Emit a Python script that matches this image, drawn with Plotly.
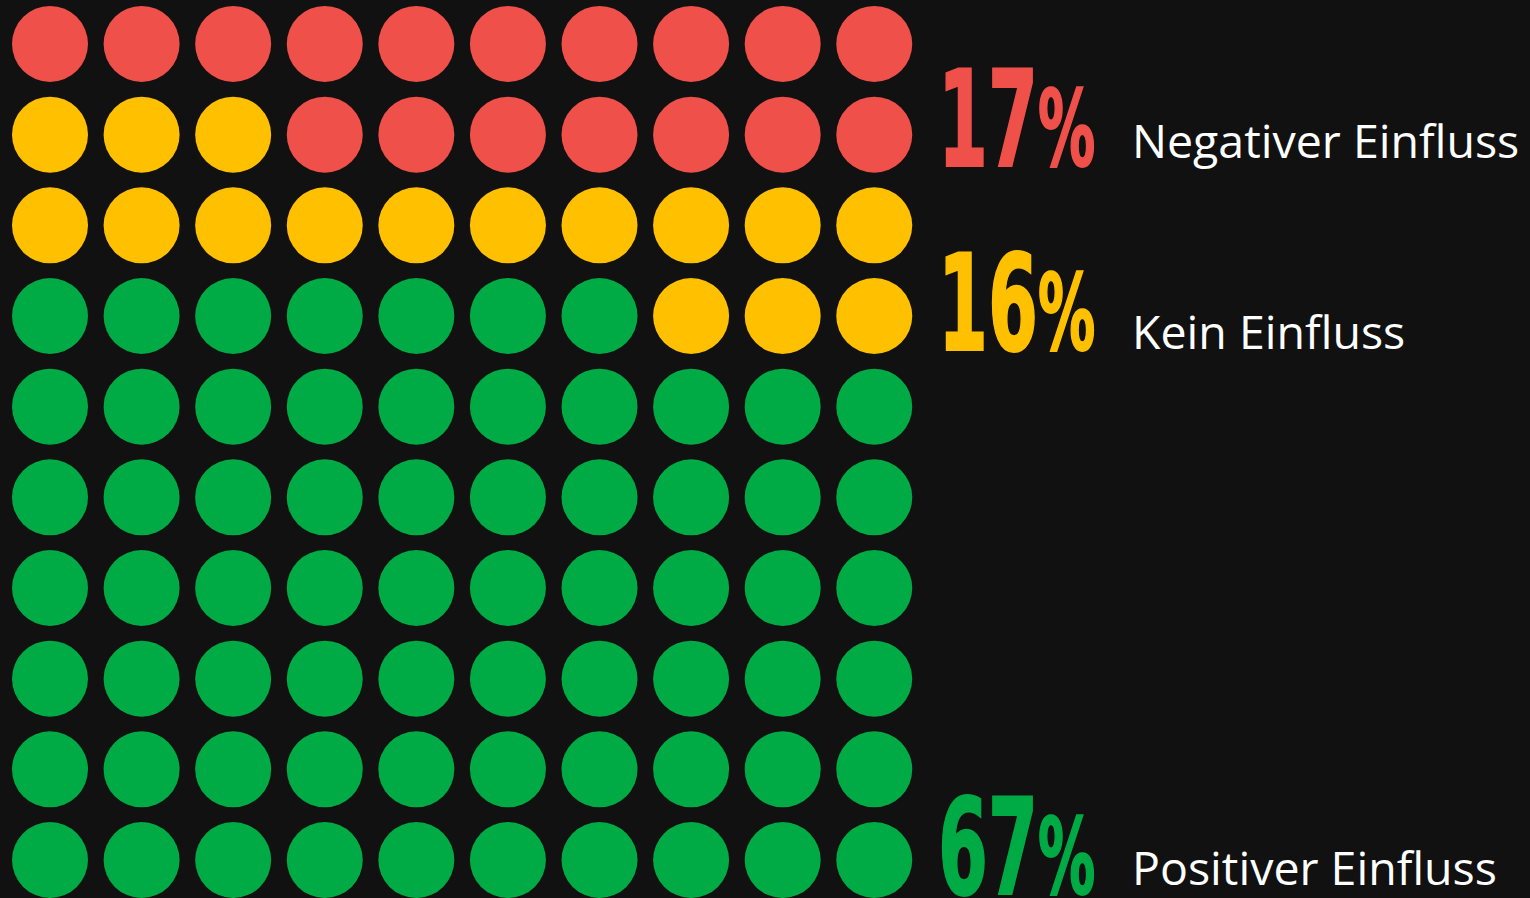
import plotly.graph_objects as go

# waffle chart: 100 dots, filled from bottom-left
categories = ["Positiver Einfluss", "Kein Einfluss", "Negativer Einfluss"]
percents = [67, 16, 17]
colors = ["#00AA44", "#FFC000", "#F0504A"]

n_cols = 10
n_rows = 10

xs, ys, cs = [], [], []
k = 0
for cat, pct, col in zip(categories, percents, colors):
    for _ in range(pct):
        xs.append(k % n_cols)
        ys.append(n_rows - 1 - k // n_cols)
        cs.append(col)
        k += 1

fig = go.Figure()
fig.add_trace(go.Scatter(
    x=xs, y=ys, mode="markers",
    marker=dict(size=76, color=cs, line=dict(width=0)),
    hoverinfo="skip", showlegend=False
))

num_font = "DejaVu Sans Condensed, DejaVu Sans, sans-serif"
lab_font = "Open Sans, Noto Sans, sans-serif"

# label placement (in row units, measured from the top row)
num_y = [8.863, 2.873, 0.833]
lab_y = [9.075, 3.165, 1.06]

for cat, pct, col, ny, ly in zip(categories, percents, colors, num_y, lab_y):
    fig.add_annotation(
        x=9.676, y=ny, xref="x", yref="y",
        text=f"<b>{pct}<span style='font-size:106px'>%</span></b>",
        showarrow=False, xanchor="left", yanchor="middle", align="left",
        font=dict(family=num_font, size=133, color=col)
    )
    fig.add_annotation(
        x=11.795, y=ly, xref="x", yref="y",
        text=cat,
        showarrow=False, xanchor="left", yanchor="middle", align="left",
        font=dict(family=lab_font, size=46.5, color="#FFFFFF")
    )

fig.update_xaxes(range=[-0.546, 16.16], visible=False, fixedrange=True)
fig.update_yaxes(range=[9.419, -0.485], visible=False, fixedrange=True)
fig.update_layout(
    width=1530, height=898,
    margin=dict(l=0, r=0, t=0, b=0),
    paper_bgcolor="#111111", plot_bgcolor="#111111",
)

# page margin off, and squeeze the big numbers horizontally (condensed look)
post = """
document.body.style.margin = '0';
document.body.style.overflow = 'hidden';
document.body.style.background = '#111111';
var gd = document.getElementById('{plot_id}');
function squeeze() {
    gd.querySelectorAll('text.annotation-text').forEach(function (t) {
        if (t.textContent.indexOf('%') < 0) return;
        var x0 = parseFloat(t.getAttribute('x')) || 0;
        var s = 0.6;
        t.setAttribute('transform', 'translate(' + (x0 * (1 - s)) + ',0) scale(' + s + ',1)');
        t.style.stroke = t.style.fill;
        t.style.strokeWidth = '2px';
    });
}
squeeze();
gd.on('plotly_afterplot', squeeze);
setTimeout(squeeze, 50);
setTimeout(squeeze, 300);
"""

fig.write_html("out.html", post_script=post, config={"displayModeBar": False})
